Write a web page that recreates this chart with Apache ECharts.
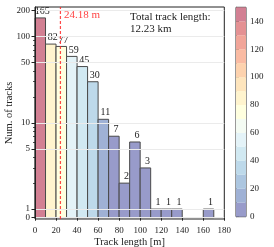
<!DOCTYPE html>
<html><head><meta charset="utf-8">
<script src="https://cdn.jsdelivr.net/npm/echarts@6/dist/echarts.min.js"></script>
<style>html,body{margin:0;padding:0;background:#fff}#c{width:274px;height:247px}</style>
</head><body><div id="c"></div>
<script>
// ---- data ----
const binStarts = [0,10,20,30,40,50,60,70,80,90,100,110,120,130,140,150,160];
const binWidth = 10;
const counts = [165,82,77,59,45,30,11,7,2,6,3,1,1,1,0,0,1];
const meanLength = 24.18;
const meanLabel = '24.18 m';
const totalText = 'Total track length:\n12.23 km';
const xTicks = [0,20,40,60,80,100,120,140,160,180];
const yTicks = [0,1,5,10,50,100,200];
const yMinorTicks = [2,3,4,6,7,8,9,20,30,40,60,70,80,90];
const cbarTicks = [0,20,40,60,80,100,120,140];
const cbarBandStarts = [0,10,20,30,40,50,60,70,80,90,100,110,120,130,140];
const cbarBandWidth = 10;
const cbarMax = 150;
const xName = 'Track length [m]';
const yName = 'Num. of tracks';

// ---- styling helpers ----
const FONT = '"Liberation Serif", "DejaVu Serif", serif';
const TXT = '#222';
const LIN = 0.1;
function T(v){ return v < 1 ? v * LIN : LIN + Math.log10(v); }
const Y_MIN = -0.015, Y_MAX = 2.444;
const cmapStops = [[49,54,149],[69,117,180],[116,173,209],[171,217,233],[224,243,248],[255,255,191],[254,224,144],[253,174,97],[244,109,67],[215,48,39],[165,0,38]];
const ALPHA = 0.5;
function cmap(t){
  t = Math.max(0, Math.min(1, t));
  const p = t * (cmapStops.length - 1);
  const i = Math.min(Math.floor(p), cmapStops.length - 2);
  const f = p - i;
  const c = cmapStops[i].map((v,k)=> v + (cmapStops[i+1][k]-v)*f);
  const b = c.map(v => Math.round(255 + (v-255)*ALPHA));
  return 'rgb(' + b.join(',') + ')';
}
const nBands = cbarBandStarts.length;
function bandColor(v){
  let idx = Math.floor(v / cbarBandWidth);
  idx = Math.max(0, Math.min(nBands-1, idx));
  return cmap(idx / (nBands - 1));
}
const yTickT = yTicks.map(T);
function yLabel(v){
  let best = 0, bd = 1e9;
  yTicks.forEach((t,i)=>{ const d = Math.abs(yTickT[i]-v); if (d < bd){bd=d;best=t;} });
  return String(best);
}
// ticks whose labels sit too close to the "0" label go on the overlay axis
const yTickTMain = yTicks.filter(v => v !== 1).map(T);
const yTickTAlt = yTicks.filter(v => v === 1).map(T);

const chart = echarts.init(document.getElementById('c'), null, {renderer:'canvas'});
const labelBase = {fontSize: 9, fontFamily: FONT, color: TXT, hideOverlap: false, showMinLabel: true, showMaxLabel: true};
const option = {
  animation: false,
  title: {
    text: totalText, left: 130, top: 11, padding: 0,
    textStyle: {fontSize: 11, fontWeight: 'normal', fontFamily: FONT, color: TXT, lineHeight: 12}
  },
  grid: [
    {left: 35, top: 7, width: 189.3, height: 212, outerBoundsMode: 'none', containLabel: false,
     show: true, borderColor: '#222', borderWidth: 1, backgroundColor: 'transparent'},
    {left: 236, top: 7.3, width: 10, height: 209.4, outerBoundsMode: 'none', containLabel: false,
     show: true, borderColor: '#333', borderWidth: 1}
  ],
  xAxis: [
    {type: 'value', gridIndex: 0, min: 0, max: 180, interval: 20,
     name: xName, nameLocation: 'middle', nameGap: 18, nameMoveOverlap: false,
     nameTextStyle: {fontSize: 10.5, fontFamily: FONT, color: TXT},
     axisLine: {show: true, lineStyle: {color: '#222', width: 1}},
     axisTick: {show: true, length: 3, lineStyle: {color: '#222'}},
     axisLabel: Object.assign({margin: 7, customValues: xTicks}, labelBase),
     splitLine: {show: false}},
    {type: 'value', gridIndex: 1, min: 0, max: 1, show: false}
  ],
  yAxis: [
    {type: 'value', gridIndex: 0, min: Y_MIN, max: Y_MAX, z: 3,
     name: yName, nameLocation: 'middle', nameGap: 20, nameMoveOverlap: false,
     nameTextStyle: {fontSize: 10.5, fontFamily: FONT, color: TXT},
     axisLine: {show: true, lineStyle: {color: '#222', width: 1}},
     axisTick: {show: true, length: 3.5, lineStyle: {color: '#222'}, customValues: yTickT},
     axisLabel: Object.assign({margin: 5, customValues: yTickTMain, formatter: yLabel}, labelBase),
     splitLine: {show: true, lineStyle: {color: '#ebebeb', width: 1}}},
    {type: 'value', gridIndex: 0, min: Y_MIN, max: Y_MAX, position: 'left', z: 3,
     axisLine: {show: false},
     axisTick: {show: true, length: 2, lineStyle: {color: '#222', width: 0.8}, customValues: yMinorTicks.map(T)},
     axisLabel: Object.assign({margin: 5, customValues: yTickTAlt, formatter: yLabel}, labelBase),
     splitLine: {show: false}},
    {type: 'value', gridIndex: 1, min: 0, max: cbarMax, position: 'right',
     axisLine: {show: true, lineStyle: {color: '#333'}},
     axisTick: {show: true, length: 3, lineStyle: {color: '#222'}, customValues: cbarTicks},
     axisLabel: Object.assign({margin: 4, customValues: cbarTicks}, labelBase),
     splitLine: {show: false}}
  ],
  series: [
    {
      type: 'custom', xAxisIndex: 0, yAxisIndex: 0, clip: false, z: 2,
      data: binStarts.map((s,i)=>[s, counts[i]]),
      encode: {x: 0, y: 1},
      renderItem: function(params, api){
        const x0 = api.value(0), c = api.value(1);
        if (!(c > 0)) return null;
        const p0 = api.coord([x0, T(0)]);
        const p1 = api.coord([x0 + binWidth, T(c)]);
        return {type: 'group', children: [
          {type: 'rect', shape: {x: p0[0], y: p1[1], width: p1[0]-p0[0], height: p0[1]-p1[1]},
           style: {fill: bandColor(c), stroke: '#4a4a4a', lineWidth: 1}},
          {type: 'text', x: (p0[0]+p1[0])/2 + 2, y: p1[1] - 1.5,
           style: {text: String(c), textAlign: 'center', textVerticalAlign: 'bottom', fontSize: 10, fontFamily: FONT, fill: TXT}}
        ]};
      }
    },
    {
      type: 'line', xAxisIndex: 0, yAxisIndex: 0, symbol: 'circle', symbolSize: 1, showSymbol: true,
      z: 4, silent: true, clip: false, itemStyle: {color: 'rgba(0,0,0,0)', borderWidth: 0},
      lineStyle: {color: 'rgba(255,40,40,0.85)', width: 1.2, type: [3,2]},
      labelLayout: {hideOverlap: false},
      data: [
        [meanLength, Y_MIN],
        {value: [meanLength, Y_MAX], label: {show: true, position: [4, 3], align: 'left', verticalAlign: 'top',
          formatter: meanLabel, color: '#ff4545', opacity: 1, fontSize: 11, fontFamily: FONT}}
      ]
    },
    {
      type: 'custom', xAxisIndex: 1, yAxisIndex: 2, z: 2,
      data: cbarBandStarts.map(s=>[0, s]),
      renderItem: function(params, api){
        const lo = api.value(1);
        const a = api.coord([0, lo]);
        const b = api.coord([1, Math.min(lo + cbarBandWidth, cbarMax)]);
        return {type: 'rect', shape: {x: a[0], y: b[1], width: b[0]-a[0], height: a[1]-b[1]},
          style: {fill: bandColor(lo), stroke: null}};
      }
    }
  ]
};
chart.setOption(option);
</script></body></html>
